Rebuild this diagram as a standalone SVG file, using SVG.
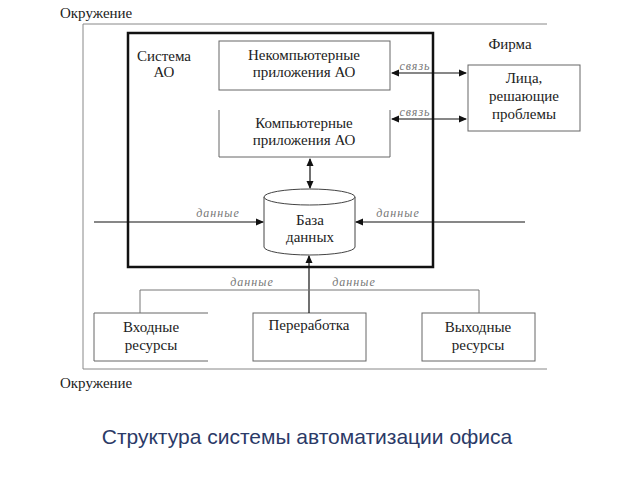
<svg xmlns="http://www.w3.org/2000/svg" width="640" height="480" viewBox="0 0 640 480">
<defs>
<marker id="ah" markerWidth="8" markerHeight="8" refX="7" refY="4" orient="auto-start-reverse" markerUnits="userSpaceOnUse">
<path d="M0,0.5 L8,4 L0,7.5 Z" fill="#111"/>
</marker>
<style>
.t{font-family:"Liberation Serif","Times New Roman",serif;font-size:15px;fill:#222;text-anchor:middle}
.s{text-anchor:start}
.l{font-family:"Liberation Serif","Times New Roman",serif;font-size:12px;font-style:italic;fill:#777;text-anchor:middle;letter-spacing:1px}
.box{fill:#fff;stroke:#666;stroke-width:1}
.frame{fill:none;stroke:#888;stroke-width:1}
.c{fill:none;stroke:#111;stroke-width:1.2}
.g{fill:none;stroke:#777;stroke-width:1}
</style>
</defs>
<rect width="640" height="480" fill="#fff"/>
<g id="environment">
<path class="frame" d="M547,24 H83 V369 H547"/>
<text class="t s" x="60" y="18">Окружение</text>
<text class="t s" x="60" y="388">Окружение</text>
</g>
<g id="system">
<rect x="128" y="33" width="305" height="234" fill="none" stroke="#111" stroke-width="2.5"/>
<text class="t" x="164" y="61">Система</text>
<text class="t" x="164" y="77">АО</text>
</g>
<g id="firm">
<text class="t" x="510" y="49">Фирма</text>
</g>
<g id="noncomp">
<rect class="box" x="219" y="41" width="171" height="49"/>
<text class="t" x="304" y="60">Некомпьютерные</text>
<text class="t" x="304" y="77">приложения АО</text>
</g>
<g id="comp">
<path class="box" d="M219,110 V157 H390 V110"/>
<text class="t" x="304" y="128">Компьютерные</text>
<text class="t" x="304" y="145">приложения АО</text>
</g>
<g id="persons">
<rect class="box" x="468" y="65" width="112" height="66"/>
<text class="t" x="524" y="83">Лица,</text>
<text class="t" x="524" y="101">решающие</text>
<text class="t" x="524" y="119">проблемы</text>
</g>
<g id="database">
<path d="M264,197 V247 A45.5,8 0 0 0 355,247 V197" fill="#fff" stroke="#444" stroke-width="1"/>
<ellipse cx="309.5" cy="197" rx="45.5" ry="8" fill="#fff" stroke="#444" stroke-width="1"/>
<text class="t" x="310" y="225">База</text>
<text class="t" x="310" y="242">данных</text>
</g>
<g id="input">
<path class="box" d="M208,313 H94 V361 H208"/>
<text class="t" x="151" y="332">Входные</text>
<text class="t" x="151" y="350">ресурсы</text>
</g>
<g id="processing">
<rect class="box" x="253" y="313" width="113" height="48"/>
<text class="t" x="309" y="330">Переработка</text>
</g>
<g id="output">
<rect class="box" x="422" y="313" width="113" height="48"/>
<text class="t" x="478" y="332">Выходные</text>
<text class="t" x="478" y="350">ресурсы</text>
</g>
<g id="connectors">
<line class="c" x1="392" y1="73" x2="466" y2="73" marker-start="url(#ah)" marker-end="url(#ah)"/>
<line class="c" x1="392" y1="119" x2="466" y2="119" marker-start="url(#ah)" marker-end="url(#ah)"/>
<line class="c" x1="310" y1="159" x2="310" y2="188" marker-start="url(#ah)" marker-end="url(#ah)"/>
<line class="c" x1="94" y1="222" x2="263" y2="222" marker-end="url(#ah)"/>
<line class="c" x1="525" y1="222" x2="356" y2="222" marker-end="url(#ah)"/>
<line class="c" x1="309" y1="313" x2="309" y2="256" marker-end="url(#ah)"/>
<path class="g" d="M140,313 V290 H479 V313"/>
<text class="l" x="415" y="70">связь</text>
<text class="l" x="415" y="116">связь</text>
<text class="l" x="218" y="217">данные</text>
<text class="l" x="398" y="217">данные</text>
<text class="l" x="252" y="286">данные</text>
<text class="l" x="354" y="286">данные</text>
</g>
<text x="307" y="444" font-family="'Liberation Sans',Arial,sans-serif" font-size="21" fill="#2b3a67" text-anchor="middle">Структура системы автоматизации офиса</text>
</svg>
